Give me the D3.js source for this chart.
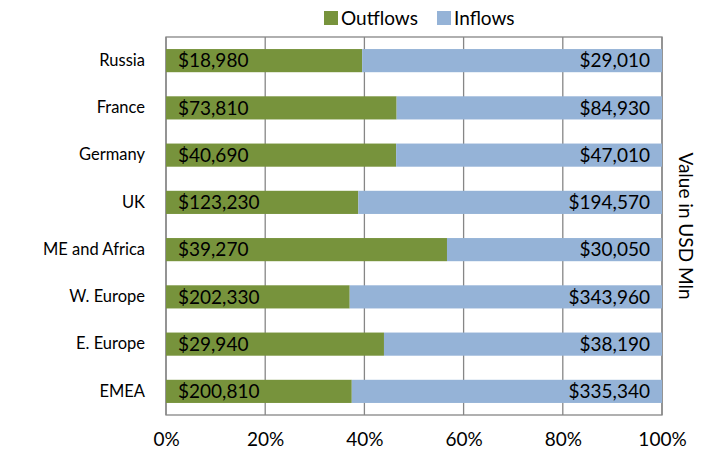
<!DOCTYPE html>
<html>
<head>
<meta charset="utf-8">
<script src="https://cdn.jsdelivr.net/npm/d3@7"></script>
<style>
  body { margin: 0; background: #fff; }
  text { font-family: Lato, "Open Sans", sans-serif; fill: #000; }
</style>
</head>
<body>
<div id="chart"></div>
<script>
// chart values
var categories = ["Russia", "France", "Germany", "UK", "ME and Africa", "W. Europe", "E. Europe", "EMEA"];
var outflows = [18980, 73810, 40690, 123230, 39270, 202330, 29940, 200810];
var inflows = [29010, 84930, 47010, 194570, 30050, 343960, 38190, 335340];
var seriesNames = ["Outflows", "Inflows"];
var tickValues = [0, 0.2, 0.4, 0.6, 0.8, 1];

var width = 708, height = 451;
var margin = {top: 37, right: 46, bottom: 36, left: 166};
var colors = {Outflows: "#77933C", Inflows: "#95B3D7"};

var svg = d3.select("#chart")
  .append("svg")
  .attr("width", width)
  .attr("height", height);

var x = d3.scaleLinear()
  .domain([0, 1])
  .range([margin.left, width - margin.right]);

var y = d3.scaleBand()
  .domain(categories)
  .range([margin.top, height - margin.bottom])
  .paddingInner(0.51)
  .paddingOuter(0.255);

var rows = categories.map(function(c, i) {
  var total = outflows[i] + inflows[i];
  return {cat: c, Outflows: outflows[i] / total, Inflows: inflows[i] / total,
          outVal: outflows[i], inVal: inflows[i]};
});

var stacked = d3.stack().keys(seriesNames)(rows);

// gridlines
svg.append("g")
  .selectAll("line")
  .data(tickValues)
  .join("line")
  .attr("x1", function(d) { return x(d); })
  .attr("x2", function(d) { return x(d); })
  .attr("y1", margin.top)
  .attr("y2", height - margin.bottom)
  .attr("stroke", "#868686")
  .attr("stroke-width", 1.3);

// plot border
svg.append("rect")
  .attr("x", x(0))
  .attr("y", margin.top)
  .attr("width", x(1) - x(0))
  .attr("height", height - margin.bottom - margin.top)
  .attr("fill", "none")
  .attr("stroke", "#868686")
  .attr("stroke-width", 1.3);

// bars
svg.append("g")
  .selectAll("g")
  .data(stacked)
  .join("g")
  .attr("fill", function(s) { return colors[s.key]; })
  .selectAll("rect")
  .data(function(s) { return s; })
  .join("rect")
  .attr("x", function(d) { return x(d[0]); })
  .attr("width", function(d) { return x(d[1]) - x(d[0]); })
  .attr("y", function(d) { return y(d.data.cat); })
  .attr("height", y.bandwidth());

var fmt = function(v) { return "$" + d3.format(",")(v); };

// value labels
var labels = svg.append("g").attr("font-size", 19);
labels.selectAll("text.out")
  .data(rows)
  .join("text")
  .attr("class", "out")
  .attr("x", x(0) + 12)
  .attr("y", function(d) { return y(d.cat) + y.bandwidth() / 2; })
  .attr("dy", "0.36em")
  .text(function(d) { return fmt(d.outVal); });
labels.selectAll("text.in")
  .data(rows)
  .join("text")
  .attr("class", "in")
  .attr("x", x(1) - 12)
  .attr("y", function(d) { return y(d.cat) + y.bandwidth() / 2; })
  .attr("dy", "0.36em")
  .attr("text-anchor", "end")
  .text(function(d) { return fmt(d.inVal); });

// category axis
var yAxis = svg.append("g")
  .attr("transform", "translate(" + (margin.left - 21) + ",0)")
  .call(d3.axisLeft(y).tickSize(0).tickPadding(0));
yAxis.select(".domain").remove();
yAxis.selectAll("text").attr("font-size", 16.5).attr("font-family", "Lato, sans-serif").attr("fill", "#000");

// percent axis
var xAxis = svg.append("g")
  .attr("transform", "translate(0," + (height - margin.bottom + 17) + ")")
  .call(d3.axisBottom(x).tickValues(tickValues).tickFormat(d3.format(".0%")).tickSize(0).tickPadding(0));
xAxis.select(".domain").remove();
xAxis.selectAll("text").attr("font-size", 19).attr("font-family", "Lato, sans-serif").attr("fill", "#000");

// right axis title
svg.append("text")
  .attr("transform", "translate(" + (width - 22) + "," + ((margin.top + height - margin.bottom) / 2) + ") rotate(90)")
  .attr("text-anchor", "middle")
  .attr("dy", "0.35em")
  .attr("font-size", 19)
  .text("Value in USD Mln");

// legend
var legendX = [324, 437];
var legend = svg.append("g")
  .selectAll("g")
  .data(seriesNames)
  .join("g")
  .attr("transform", function(d, i) { return "translate(" + legendX[i] + ",11)"; });
legend.append("rect")
  .attr("width", 14)
  .attr("height", 14)
  .attr("fill", function(d) { return colors[d]; });
legend.append("text")
  .attr("x", 17)
  .attr("y", 7)
  .attr("dy", "0.36em")
  .attr("font-size", 19)
  .text(function(d) { return d; });
</script>
</body>
</html>
